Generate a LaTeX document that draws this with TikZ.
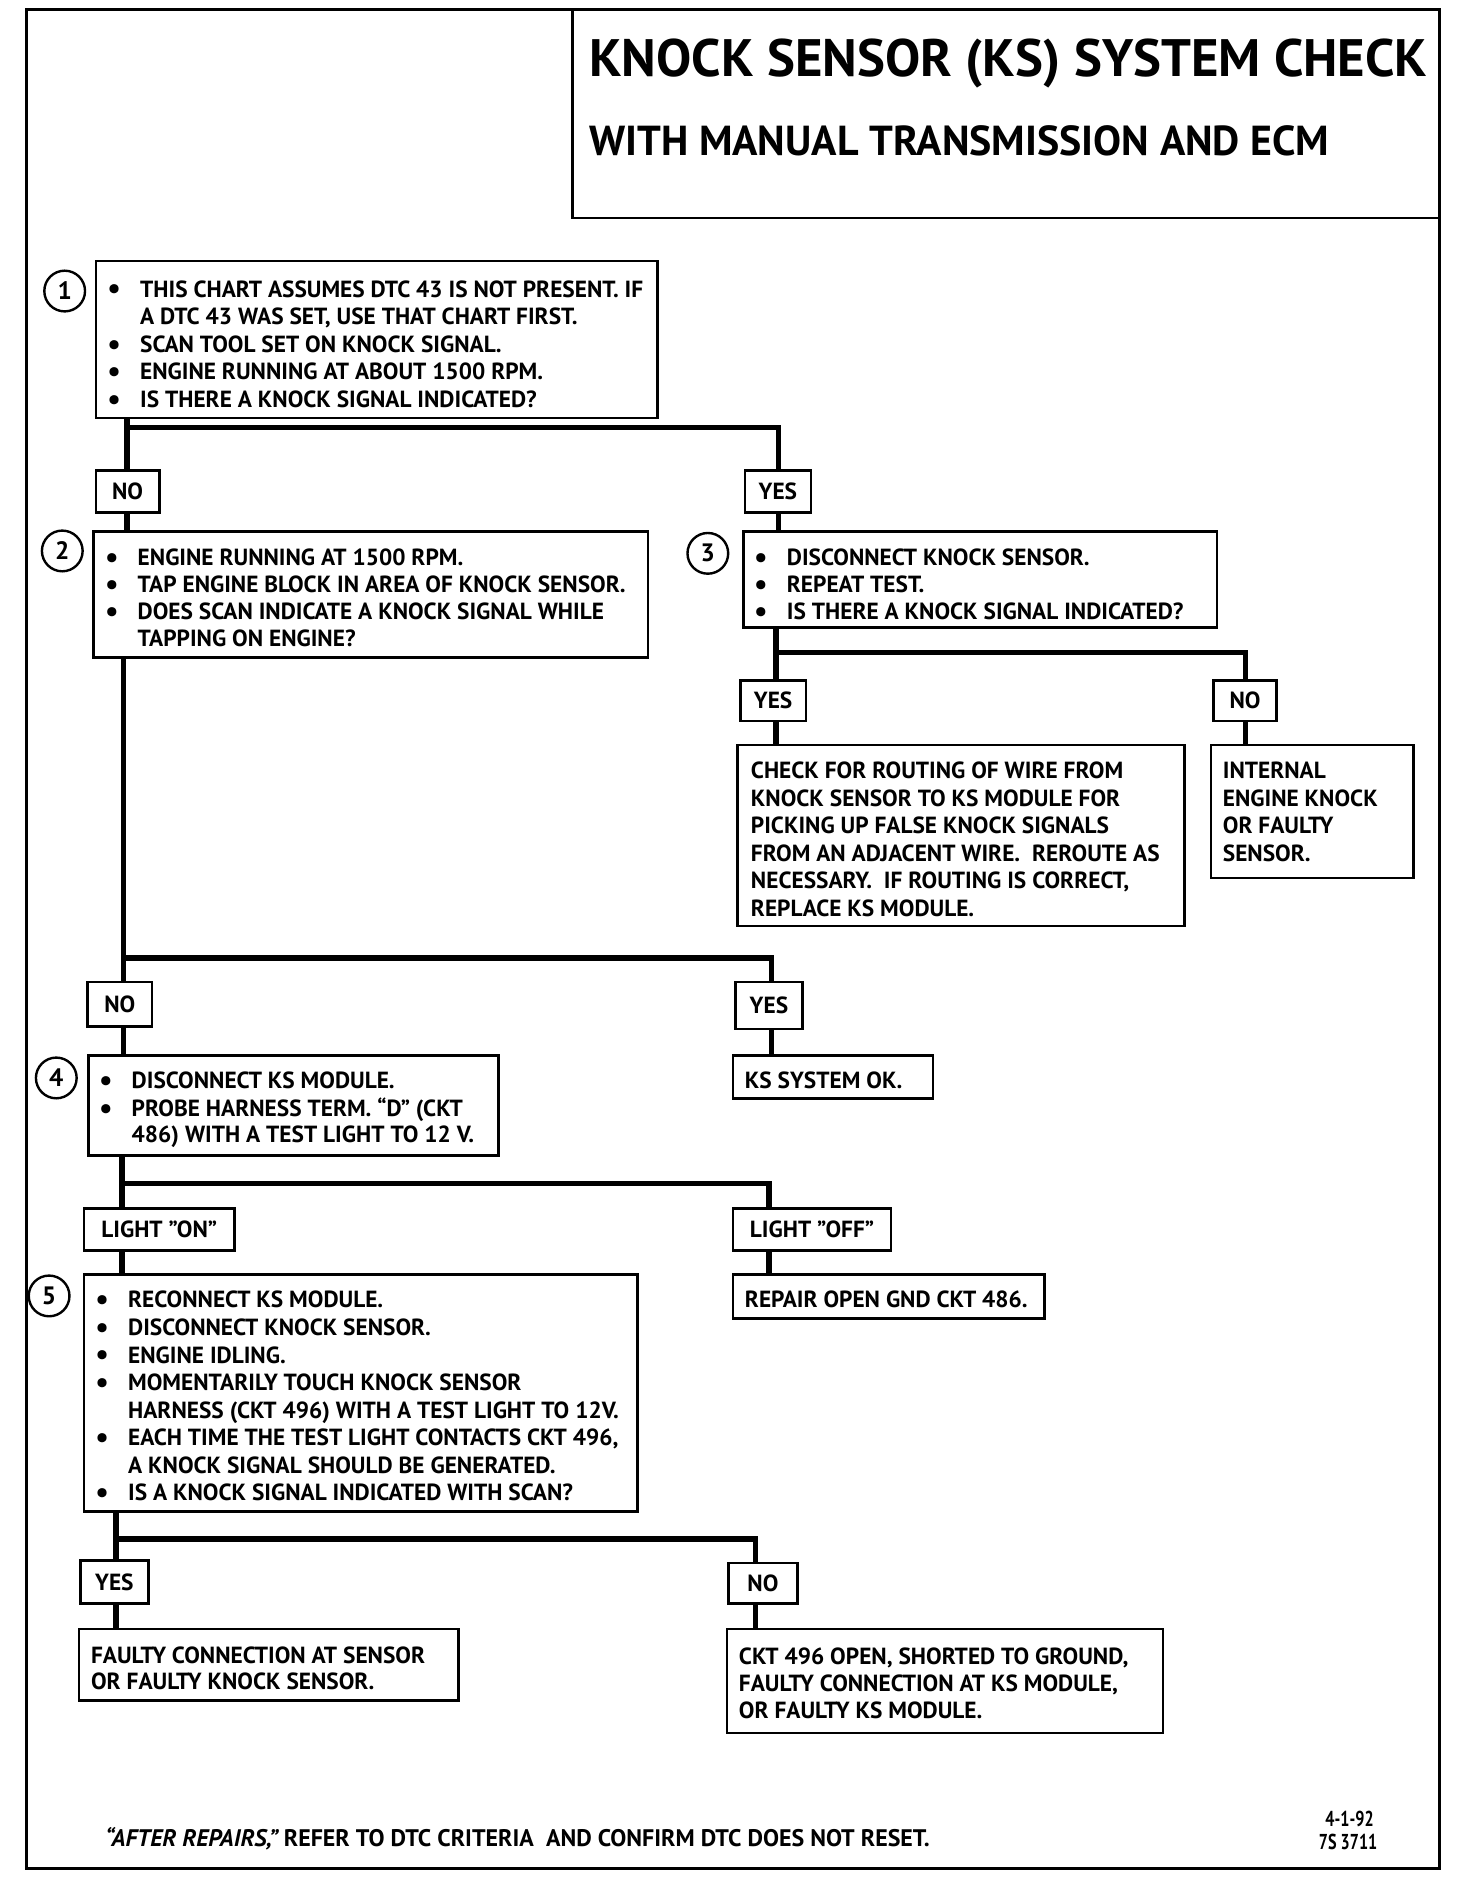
\documentclass[tikz,border=0pt]{standalone}
\usepackage{fontspec}
\usepackage{graphicx}
\setmainfont{PT Sans}
\usetikzlibrary{calc}
\tikzset{
  box/.style={draw, line width=2.2pt, inner sep=0pt, outer sep=0pt, anchor=north west,
    font=\bfseries\fontsize{19.5}{22}\selectfont},
  conn/.style={line width=4.5pt},
  txt/.style={anchor=base west, inner sep=0pt, outer sep=0pt, font=\bfseries\fontsize{19.5}{22}\selectfont},
  num/.style={draw, circle, line width=2pt, minimum size=34pt, inner sep=0pt,
    font=\bfseries\fontsize{21}{21}\selectfont},
}
\newcommand\bx[6]{\node[box, minimum width={(#4-#2)*1pt}, minimum height={(#5-#3)*1pt}] (#1) at (#2,#3) {#6};}
\newcommand\tx[4]{\node[txt] (#1) at (#2,#3) {#4};}
\newcommand\bigbul{\raisebox{-1.6pt}{\fontsize{25}{25}\selectfont\textbullet}}
\newcommand\bl[4]{\node[txt] (#1) at (#2,#3) {\llap{\bigbul\hspace{16pt}}#4};}
\begin{document}
\begin{tikzpicture}[x=1pt,y=-1pt]
\fill[white] (0,0) rectangle (1216,1568);
\useasboundingbox (0,0) rectangle (1216,1568);
% frame
\draw[line width=3pt] (22,8) rectangle (1202,1560);
\node[draw, line width=2.2pt, inner sep=0pt, outer sep=0pt, anchor=north west,
  minimum width=724pt, minimum height=174pt] (title) at (478,8) {};
\node[txt, font=\bfseries\fontsize{44}{44}\selectfont] (t1) at (492,64) {KNOCK SENSOR (KS) SYSTEM CHECK};
\node[txt, font=\bfseries\fontsize{35}{35}\selectfont] (t2) at (492,130) {WITH MANUAL TRANSMISSION AND ECM};

% step 1
\node[num] (c1) at (54,243) {1};
\bx{b1}{80}{218}{549}{349}{}
\bl{b1a}{117}{248}{THIS CHART ASSUMES DTC 43 IS NOT PRESENT. IF}
\tx{b1b}{117}{271}{A DTC 43 WAS SET, USE THAT CHART FIRST.}
\bl{b1c}{117}{294}{SCAN TOOL SET ON KNOCK SIGNAL.}
\bl{b1d}{117}{317}{ENGINE RUNNING AT ABOUT 1500 RPM.}
\bl{b1e}{117}{340}{IS THERE A KNOCK SIGNAL INDICATED?}
\bx{no1}{80}{393}{133}{428}{NO}
\bx{yes1}{622}{393}{677}{428}{YES}

% step 2
\node[num] (c2) at (52,460) {2};
\bx{b2}{78}{444}{541}{549}{}
\bl{b2a}{115}{472}{ENGINE RUNNING AT 1500 RPM.}
\bl{b2b}{115}{495}{TAP ENGINE BLOCK IN AREA OF KNOCK SENSOR.}
\bl{b2c}{115}{517}{DOES SCAN INDICATE A KNOCK SIGNAL WHILE}
\tx{b2d}{115}{540}{TAPPING ON ENGINE?}

% step 3
\node[num] (c3) at (591,462) {3};
\bx{b3}{621}{444}{1016}{524}{}
\bl{b3a}{657}{472}{DISCONNECT KNOCK SENSOR.}
\bl{b3b}{657}{495}{REPEAT TEST.}
\bl{b3c}{657}{517}{IS THERE A KNOCK SIGNAL INDICATED?}
\bx{yes3}{618}{568}{673}{602}{YES}
\bx{no3}{1013}{568}{1066}{602}{NO}
\bx{chk}{616}{622}{989}{773}{}
\tx{chka}{627}{650}{CHECK FOR ROUTING OF WIRE FROM}
\tx{chkb}{627}{673}{KNOCK SENSOR TO KS MODULE FOR}
\tx{chkc}{627}{696}{PICKING UP FALSE KNOCK SIGNALS}
\tx{chkd}{627}{719}{FROM AN ADJACENT WIRE.\ \ REROUTE AS}
\tx{chke}{627}{742}{NECESSARY.\ \ IF ROUTING IS CORRECT,}
\tx{chkf}{627}{765}{REPLACE KS MODULE.}
\bx{int}{1011}{622}{1180}{733}{}
\tx{inta}{1021}{650}{INTERNAL}
\tx{intb}{1021}{673}{ENGINE KNOCK}
\tx{intc}{1021}{696}{OR FAULTY}
\tx{intd}{1021}{719}{SENSOR.}

% step 2 branches
\bx{no2}{73}{820}{127}{857}{NO}
\bx{yes2}{614}{820}{670}{859}{YES}
\bx{ok}{612}{881}{779}{917}{}
\tx{oka}{622}{909}{KS SYSTEM OK.}

% step 4
\node[num] (c4) at (47,900) {4};
\bx{b4}{74}{881}{416}{965}{}
\bl{b4a}{110}{909}{DISCONNECT KS MODULE.}
\bl{b4b}{110}{932}{PROBE HARNESS TERM. ``D'' (CKT}
\tx{b4c}{110}{954}{486) WITH A TEST LIGHT TO 12 V.}
\bx{lon}{70}{1009}{196}{1044}{LIGHT "ON"}
\bx{loff}{612}{1009}{744}{1044}{LIGHT "OFF"}
\bx{rep}{612}{1064}{872}{1101}{}
\tx{repa}{622}{1092}{REPAIR OPEN GND CKT 486.}

% step 5
\node[num] (c5) at (41,1082) {5};
\bx{b5}{70}{1064}{532}{1262}{}
\bl{b5a}{107}{1092}{RECONNECT KS MODULE.}
\bl{b5b}{107}{1115}{DISCONNECT KNOCK SENSOR.}
\bl{b5c}{107}{1138}{ENGINE IDLING.}
\bl{b5d}{107}{1161}{MOMENTARILY TOUCH KNOCK SENSOR}
\tx{b5e}{107}{1184}{HARNESS (CKT 496) WITH A TEST LIGHT TO 12V.}
\bl{b5f}{107}{1207}{EACH TIME THE TEST LIGHT CONTACTS CKT 496,}
\tx{b5g}{107}{1230}{A KNOCK SIGNAL SHOULD BE GENERATED.}
\bl{b5h}{107}{1253}{IS A KNOCK SIGNAL INDICATED WITH SCAN?}
\bx{yes5}{67}{1303}{124}{1339}{YES}
\bx{no5}{608}{1305}{666}{1339}{NO}
\bx{flt}{66}{1360}{383}{1420}{}
\tx{flta}{76}{1389}{FAULTY CONNECTION AT SENSOR}
\tx{fltb}{76}{1411}{OR FAULTY KNOCK SENSOR.}
\bx{ckt}{607}{1360}{971}{1447}{}
\tx{ckta}{617}{1390}{CKT 496 OPEN, SHORTED TO GROUND,}
\tx{cktb}{617}{1412}{FAULTY CONNECTION AT KS MODULE,}
\tx{cktc}{617}{1435}{OR FAULTY KS MODULE.}

% footer
\node[txt, font=\bfseries\fontsize{20}{22}\selectfont] (foot) at (88,1542) {{\itshape ``AFTER REPAIRS,''} REFER TO DTC CRITERIA\ \ AND CONFIRM DTC DOES NOT RESET.};
\node[txt, anchor=base east, font=\bfseries\fontsize{18}{18}\selectfont] (date) at (1147,1525) {\scalebox{0.75}[1]{4-1-92}};
\node[txt, anchor=base east, font=\bfseries\fontsize{18}{18}\selectfont] (fig) at (1150,1544) {\scalebox{0.75}[1]{7S 3711}};

% connectors
\coordinate (j1) at (106,357); \coordinate (k1) at (650,357);
\draw[conn] (b1.south -| j1) -- (no1.north -| j1);
\draw[conn] (j1) -| (yes1.north -| k1);
\draw[conn] (no1.south -| j1) -- (b2.north -| j1);
\draw[conn] (yes1.south -| k1) -- (b3.north -| k1);

\coordinate (j3) at (648,545); \coordinate (k3) at (1040,545);
\draw[conn] (b3.south -| j3) -- (yes3.north -| j3);
\draw[conn] (j3) -| (no3.north -| k3);
\draw[conn] (yes3.south -| j3) -- (chk.north -| j3);
\draw[conn] (no3.south -| k3) -- (int.north -| k3);

\coordinate (j2) at (103,800); \coordinate (k2) at (644,800);
\draw[conn] (b2.south -| j2) -- (no2.north -| j2);
\draw[conn] (j2) -| (yes2.north -| k2);
\draw[conn] (no2.south -| j2) -- (b4.north -| j2);
\draw[conn] (yes2.south -| k2) -- (ok.north -| k2);

\coordinate (j4) at (102,988); \coordinate (k4) at (642,988);
\draw[conn] (b4.south -| j4) -- (lon.north -| j4);
\draw[conn] (j4) -| (loff.north -| k4);
\draw[conn] (lon.south -| j4) -- (b5.north -| j4);
\draw[conn] (loff.south -| k4) -- (rep.north -| k4);

\coordinate (j5) at (97,1285); \coordinate (k5) at (631,1285);
\draw[conn] (b5.south -| j5) -- (yes5.north -| j5);
\draw[conn] (j5) -| (no5.north -| k5);
\draw[conn] (yes5.south -| j5) -- (flt.north -| j5);
\draw[conn] (no5.south -| k5) -- (ckt.north -| k5);
\end{tikzpicture}
\end{document}
